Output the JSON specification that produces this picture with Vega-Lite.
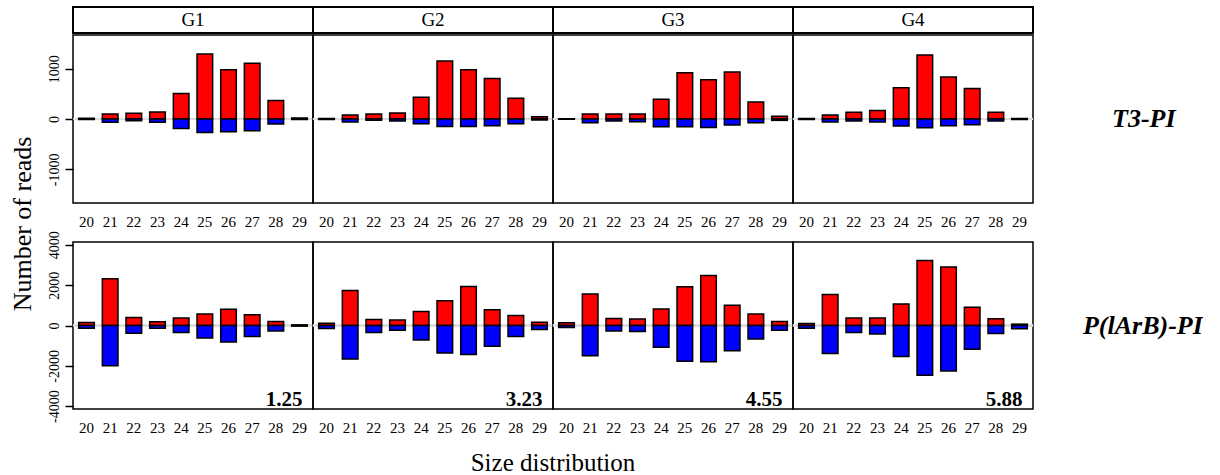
{
  "$schema": "https://vega.github.io/schema/vega-lite/v6.json",
  "background": "white",
  "padding": {"left": 9, "top": 6, "right": 0, "bottom": 0},
  "title": {"text": "Number of reads", "orient": "left", "anchor": "middle", "font": "Liberation Serif", "fontSize": 26, "fontWeight": "normal", "color": "#000", "offset": 11, "dx": 17},
  "config": {
    "font": "Liberation Serif",
    "view": {"stroke": "#000", "strokeWidth": 1.5},
    "axis": {"grid": false, "domain": false, "labelFont": "Liberation Serif", "labelColor": "#000", "tickColor": "#000"}
  },
  "datasets": {
    "strips": [{"g": "G1"}, {"g": "G2"}, {"g": "G3"}, {"g": "G4"}],
    "top": [
      {"g": "G1", "set": "T3-PI", "size": 20, "pos": 15, "neg": -10},
      {"g": "G1", "set": "T3-PI", "size": 21, "pos": 100, "neg": -67},
      {"g": "G1", "set": "T3-PI", "size": 22, "pos": 113, "neg": -33},
      {"g": "G1", "set": "T3-PI", "size": 23, "pos": 140, "neg": -67},
      {"g": "G1", "set": "T3-PI", "size": 24, "pos": 507, "neg": -187},
      {"g": "G1", "set": "T3-PI", "size": 25, "pos": 1293, "neg": -267},
      {"g": "G1", "set": "T3-PI", "size": 26, "pos": 980, "neg": -253},
      {"g": "G1", "set": "T3-PI", "size": 27, "pos": 1107, "neg": -233},
      {"g": "G1", "set": "T3-PI", "size": 28, "pos": 367, "neg": -100},
      {"g": "G1", "set": "T3-PI", "size": 29, "pos": 20, "neg": -10},
      {"g": "G2", "set": "T3-PI", "size": 20, "pos": 10, "neg": -10},
      {"g": "G2", "set": "T3-PI", "size": 21, "pos": 80, "neg": -60},
      {"g": "G2", "set": "T3-PI", "size": 22, "pos": 100, "neg": -27},
      {"g": "G2", "set": "T3-PI", "size": 23, "pos": 120, "neg": -40},
      {"g": "G2", "set": "T3-PI", "size": 24, "pos": 433, "neg": -93},
      {"g": "G2", "set": "T3-PI", "size": 25, "pos": 1153, "neg": -147},
      {"g": "G2", "set": "T3-PI", "size": 26, "pos": 980, "neg": -147},
      {"g": "G2", "set": "T3-PI", "size": 27, "pos": 807, "neg": -133},
      {"g": "G2", "set": "T3-PI", "size": 28, "pos": 413, "neg": -93},
      {"g": "G2", "set": "T3-PI", "size": 29, "pos": 47, "neg": -20},
      {"g": "G3", "set": "T3-PI", "size": 20, "pos": 5, "neg": -5},
      {"g": "G3", "set": "T3-PI", "size": 21, "pos": 100, "neg": -73},
      {"g": "G3", "set": "T3-PI", "size": 22, "pos": 100, "neg": -40},
      {"g": "G3", "set": "T3-PI", "size": 23, "pos": 100, "neg": -53},
      {"g": "G3", "set": "T3-PI", "size": 24, "pos": 393, "neg": -153},
      {"g": "G3", "set": "T3-PI", "size": 25, "pos": 920, "neg": -153},
      {"g": "G3", "set": "T3-PI", "size": 26, "pos": 780, "neg": -167},
      {"g": "G3", "set": "T3-PI", "size": 27, "pos": 933, "neg": -120},
      {"g": "G3", "set": "T3-PI", "size": 28, "pos": 340, "neg": -73},
      {"g": "G3", "set": "T3-PI", "size": 29, "pos": 53, "neg": -27},
      {"g": "G4", "set": "T3-PI", "size": 20, "pos": 10, "neg": -10},
      {"g": "G4", "set": "T3-PI", "size": 21, "pos": 80, "neg": -60},
      {"g": "G4", "set": "T3-PI", "size": 22, "pos": 133, "neg": -40},
      {"g": "G4", "set": "T3-PI", "size": 23, "pos": 167, "neg": -60},
      {"g": "G4", "set": "T3-PI", "size": 24, "pos": 620, "neg": -140},
      {"g": "G4", "set": "T3-PI", "size": 25, "pos": 1273, "neg": -173},
      {"g": "G4", "set": "T3-PI", "size": 26, "pos": 833, "neg": -133},
      {"g": "G4", "set": "T3-PI", "size": 27, "pos": 607, "neg": -113},
      {"g": "G4", "set": "T3-PI", "size": 28, "pos": 133, "neg": -40},
      {"g": "G4", "set": "T3-PI", "size": 29, "pos": 10, "neg": -10}
    ],
    "bottom": [
      {"g": "G1", "set": "P(lArB)-PI", "size": 20, "pos": 150, "neg": -133},
      {"g": "G1", "set": "P(lArB)-PI", "size": 21, "pos": 2317, "neg": -2000},
      {"g": "G1", "set": "P(lArB)-PI", "size": 22, "pos": 400, "neg": -383},
      {"g": "G1", "set": "P(lArB)-PI", "size": 23, "pos": 183, "neg": -133},
      {"g": "G1", "set": "P(lArB)-PI", "size": 24, "pos": 367, "neg": -350},
      {"g": "G1", "set": "P(lArB)-PI", "size": 25, "pos": 567, "neg": -617},
      {"g": "G1", "set": "P(lArB)-PI", "size": 26, "pos": 800, "neg": -817},
      {"g": "G1", "set": "P(lArB)-PI", "size": 27, "pos": 533, "neg": -550},
      {"g": "G1", "set": "P(lArB)-PI", "size": 28, "pos": 200, "neg": -267},
      {"g": "G1", "set": "P(lArB)-PI", "size": 29, "pos": 30, "neg": -30, "ratio": "1.25"},
      {"g": "G2", "set": "P(lArB)-PI", "size": 20, "pos": 117, "neg": -150},
      {"g": "G2", "set": "P(lArB)-PI", "size": 21, "pos": 1733, "neg": -1667},
      {"g": "G2", "set": "P(lArB)-PI", "size": 22, "pos": 300, "neg": -350},
      {"g": "G2", "set": "P(lArB)-PI", "size": 23, "pos": 267, "neg": -233},
      {"g": "G2", "set": "P(lArB)-PI", "size": 24, "pos": 700, "neg": -717},
      {"g": "G2", "set": "P(lArB)-PI", "size": 25, "pos": 1233, "neg": -1367},
      {"g": "G2", "set": "P(lArB)-PI", "size": 26, "pos": 1933, "neg": -1433},
      {"g": "G2", "set": "P(lArB)-PI", "size": 27, "pos": 783, "neg": -1033},
      {"g": "G2", "set": "P(lArB)-PI", "size": 28, "pos": 500, "neg": -550},
      {"g": "G2", "set": "P(lArB)-PI", "size": 29, "pos": 167, "neg": -200, "ratio": "3.23"},
      {"g": "G3", "set": "P(lArB)-PI", "size": 20, "pos": 133, "neg": -100},
      {"g": "G3", "set": "P(lArB)-PI", "size": 21, "pos": 1567, "neg": -1500},
      {"g": "G3", "set": "P(lArB)-PI", "size": 22, "pos": 350, "neg": -267},
      {"g": "G3", "set": "P(lArB)-PI", "size": 23, "pos": 317, "neg": -300},
      {"g": "G3", "set": "P(lArB)-PI", "size": 24, "pos": 817, "neg": -1083},
      {"g": "G3", "set": "P(lArB)-PI", "size": 25, "pos": 1917, "neg": -1767},
      {"g": "G3", "set": "P(lArB)-PI", "size": 26, "pos": 2483, "neg": -1800},
      {"g": "G3", "set": "P(lArB)-PI", "size": 27, "pos": 1000, "neg": -1250},
      {"g": "G3", "set": "P(lArB)-PI", "size": 28, "pos": 567, "neg": -667},
      {"g": "G3", "set": "P(lArB)-PI", "size": 29, "pos": 200, "neg": -233, "ratio": "4.55"},
      {"g": "G4", "set": "P(lArB)-PI", "size": 20, "pos": 100, "neg": -133},
      {"g": "G4", "set": "P(lArB)-PI", "size": 21, "pos": 1533, "neg": -1383},
      {"g": "G4", "set": "P(lArB)-PI", "size": 22, "pos": 367, "neg": -350},
      {"g": "G4", "set": "P(lArB)-PI", "size": 23, "pos": 367, "neg": -417},
      {"g": "G4", "set": "P(lArB)-PI", "size": 24, "pos": 1067, "neg": -1533},
      {"g": "G4", "set": "P(lArB)-PI", "size": 25, "pos": 3217, "neg": -2467},
      {"g": "G4", "set": "P(lArB)-PI", "size": 26, "pos": 2900, "neg": -2250},
      {"g": "G4", "set": "P(lArB)-PI", "size": 27, "pos": 900, "neg": -1183},
      {"g": "G4", "set": "P(lArB)-PI", "size": 28, "pos": 333, "neg": -400},
      {"g": "G4", "set": "P(lArB)-PI", "size": 29, "pos": 67, "neg": -167, "ratio": "5.88"}
    ]
  },
  "spacing": 1,
  "vconcat": [
    {
      "spacing": 0,
      "vconcat": [
        {
          "data": {"name": "strips"},
          "facet": {"column": {"field": "g", "type": "nominal", "header": null}},
          "spacing": {"column": 0},
          "bounds": "flush",
          "spec": {
            "width": 240,
            "height": 26,
            "view": {"stroke": "#000", "strokeWidth": 2},
            "mark": {"type": "text", "font": "Liberation Serif", "fontSize": 19, "color": "#000"},
            "encoding": {"text": {"field": "g", "type": "nominal"}}
          }
        },
        {
          "data": {"name": "top"},
          "facet": {
            "row": {"field": "set", "type": "nominal", "header": {"title": null, "labelOrient": "right", "labelAngle": 0, "labelAlign": "right", "labelPadding": 79, "labelFont": "Liberation Serif", "labelFontSize": 26, "labelFontWeight": "bold", "labelFontStyle": "italic", "labelColor": "#000"}},
            "column": {"field": "g", "type": "nominal", "header": null}
          },
          "spacing": {"row": 0, "column": 0},
          "bounds": "flush",
          "spec": {
            "width": 240,
            "height": 168,
            "layer": [
              {
                "mark": {"type": "rule", "color": "#dddddd", "strokeWidth": 1.5},
                "encoding": {"y": {"datum": 0, "type": "quantitative", "scale": {"domain": [-1670, 1670], "nice": false}, "axis": {"title": null, "values": [-1000, 0, 1000], "labelExpr": "toString(datum.value)", "labelAngle": 270, "labelAlign": "center", "labelBaseline": "bottom", "labelFontSize": 14, "tickSize": 8, "tickWidth": 1.5, "labelPadding": 4}}}
              },
              {
                "mark": {"type": "bar", "fill": "#ff0000", "stroke": "#000", "strokeWidth": 1.5},
                "encoding": {
                  "x": {"field": "size", "type": "ordinal", "scale": {"paddingInner": 0.34, "paddingOuter": 0.24}, "axis": {"title": null, "labelAngle": 0, "ticks": false, "labelFontSize": 15, "labelPadding": 11}},
                  "y": {"field": "pos", "type": "quantitative", "stack": null, "scale": {"domain": [-1670, 1670], "nice": false}, "axis": {"title": null, "values": [-1000, 0, 1000], "labelExpr": "toString(datum.value)", "labelAngle": 270, "labelAlign": "center", "labelBaseline": "bottom", "labelFontSize": 14, "tickSize": 8, "tickWidth": 1.5, "labelPadding": 4}}
                }
              },
              {
                "mark": {"type": "bar", "fill": "#0000ff", "stroke": "#000", "strokeWidth": 1.5},
                "encoding": {
                  "x": {"field": "size", "type": "ordinal"},
                  "y": {"field": "neg", "type": "quantitative", "stack": null}
                }
              }
            ]
          }
        }
      ]
    },
    {
      "data": {"name": "bottom"},
      "facet": {
        "row": {"field": "set", "type": "nominal", "header": {"title": null, "labelOrient": "right", "labelAngle": 0, "labelAlign": "right", "labelPadding": 50, "labelFont": "Liberation Serif", "labelFontSize": 26, "labelFontWeight": "bold", "labelFontStyle": "italic", "labelColor": "#000"}},
        "column": {"field": "g", "type": "nominal", "title": "Size distribution", "header": {"labels": false, "titleOrient": "bottom", "titleFont": "Liberation Serif", "titleFontSize": 25, "titleFontWeight": "normal", "titleColor": "#000", "titlePadding": 6}}
      },
      "spacing": {"row": 0, "column": 0},
      "bounds": "flush",
      "spec": {
        "width": 240,
        "height": 167,
        "layer": [
          {
            "mark": {"type": "rule", "color": "#dddddd", "strokeWidth": 1.5},
            "encoding": {"y": {"datum": 0, "type": "quantitative", "scale": {"domain": [-4140, 4140], "nice": false}, "axis": {"title": null, "values": [-4000, -2000, 0, 2000, 4000], "labelExpr": "toString(datum.value)", "labelAngle": 270, "labelAlign": "center", "labelBaseline": "bottom", "labelFontSize": 14, "tickSize": 8, "tickWidth": 1.5, "labelPadding": 4}}}
          },
          {
            "mark": {"type": "bar", "fill": "#ff0000", "stroke": "#000", "strokeWidth": 1.5},
            "encoding": {
              "x": {"field": "size", "type": "ordinal", "scale": {"paddingInner": 0.34, "paddingOuter": 0.24}, "axis": {"title": null, "labelAngle": 0, "ticks": false, "labelFontSize": 15, "labelPadding": 11}},
              "y": {"field": "pos", "type": "quantitative", "stack": null, "scale": {"domain": [-4140, 4140], "nice": false}, "axis": {"title": null, "values": [-4000, -2000, 0, 2000, 4000], "labelExpr": "toString(datum.value)", "labelAngle": 270, "labelAlign": "center", "labelBaseline": "bottom", "labelFontSize": 14, "tickSize": 8, "tickWidth": 1.5, "labelPadding": 4}}
            }
          },
          {
            "mark": {"type": "bar", "fill": "#0000ff", "stroke": "#000", "strokeWidth": 1.5},
            "encoding": {
              "x": {"field": "size", "type": "ordinal"},
              "y": {"field": "neg", "type": "quantitative", "stack": null}
            }
          },
          {
            "transform": [{"filter": "isValid(datum.ratio)"}],
            "mark": {"type": "text", "align": "right", "baseline": "alphabetic", "font": "Liberation Serif", "fontSize": 21, "fontWeight": "bold", "color": "#000", "dx": 3},
            "encoding": {
              "x": {"field": "size", "type": "ordinal"},
              "y": {"datum": -4000, "type": "quantitative"},
              "text": {"field": "ratio", "type": "nominal"}
            }
          }
        ]
      }
    }
  ]
}
